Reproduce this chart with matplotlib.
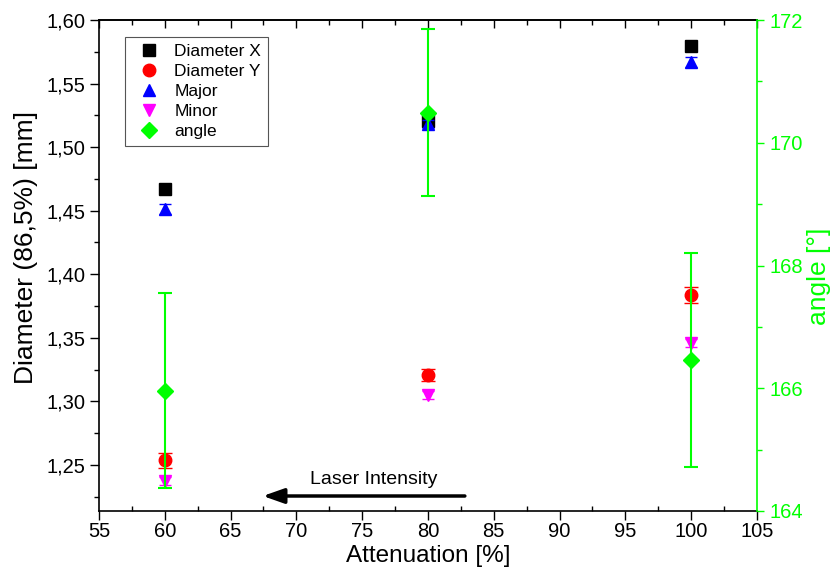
import matplotlib
matplotlib.use("Agg")
import matplotlib.pyplot as plt
from matplotlib.ticker import MultipleLocator, FuncFormatter

plt.rcParams['font.family'] = ['Liberation Sans', 'DejaVu Sans']

# Measured beam parameters versus attenuation setting
attenuation = [60, 80, 100]

diameter_x = [1.467, 1.5205, 1.5795]
diameter_x_err = [0.003, 0.003, 0.003]

diameter_y = [1.2535, 1.3207, 1.3836]
diameter_y_err = [0.006, 0.005, 0.006]

major = [1.4513, 1.518, 1.567]
major_err = [0.004, 0.003, 0.004]

minor = [1.2373, 1.305, 1.3459]
minor_err = [0.003, 0.003, 0.003]

angle = [165.96, 170.49, 166.46]
angle_err = [1.59, 1.36, 1.75]

GREEN = '#00ff00'

fig = plt.figure(figsize=(8.34, 5.72), dpi=100)
ax = fig.add_axes([99 / 834, 1 - 511 / 572, 658 / 834, 491 / 572])
ax2 = ax.twinx()

ms = 8
e1 = ax.errorbar(attenuation, diameter_x, yerr=diameter_x_err, fmt='s', color='black',
                 ms=ms, capsize=4, elinewidth=1, label='Diameter X', zorder=3)
e2 = ax.errorbar(attenuation, diameter_y, yerr=diameter_y_err, fmt='o', color='#ff0000',
                 ms=ms + 1, capsize=5, elinewidth=1, label='Diameter Y', zorder=3)
e3 = ax.errorbar(attenuation, major, yerr=major_err, fmt='^', color='#0000ff',
                 ms=ms + 1, capsize=4, elinewidth=1, label='Major', zorder=4)
e4 = ax.errorbar(attenuation, minor, yerr=minor_err, fmt='v', color='#ff00ff',
                 ms=ms + 1, capsize=4, elinewidth=1, label='Minor', zorder=4)
e5 = ax2.errorbar(attenuation, angle, yerr=angle_err, fmt='D', color=GREEN,
                  ms=ms, capsize=5, elinewidth=1.5, capthick=1.5, label='angle', zorder=3)

# Axis ranges and ticks
ax.set_xlim(55, 105)
ax.set_ylim(1.2137, 1.60)
ax2.set_ylim(164, 172)

ax.xaxis.set_major_locator(MultipleLocator(5))
ax.xaxis.set_minor_locator(MultipleLocator(2.5))
ax.yaxis.set_major_locator(MultipleLocator(0.05))
ax.yaxis.set_minor_locator(MultipleLocator(0.025))
ax2.yaxis.set_major_locator(MultipleLocator(2))
ax2.yaxis.set_minor_locator(MultipleLocator(1))

ax.yaxis.set_major_formatter(FuncFormatter(lambda v, p: f"{v:.2f}".replace('.', ',')))
ax.xaxis.set_major_formatter(FuncFormatter(lambda v, p: f"{v:.0f}"))

TICK_FS = 14.5
ax.tick_params(axis='x', which='major', direction='out', length=6.5, width=1,
               labelsize=TICK_FS, pad=1.5, top=False)
ax.tick_params(axis='x', which='minor', direction='in', length=3.5, width=1, top=False)
ax.tick_params(axis='y', which='major', direction='out', length=6.5, width=1,
               labelsize=TICK_FS, pad=3, right=False)
ax.tick_params(axis='y', which='minor', direction='out', length=3.5, width=1, right=False)

top = ax.secondary_xaxis('top')
top.xaxis.set_major_locator(MultipleLocator(5))
top.xaxis.set_minor_locator(MultipleLocator(2.5))
top.tick_params(axis='x', which='major', direction='in', length=6, width=1, labeltop=False)
top.tick_params(axis='x', which='minor', direction='in', length=3.5, width=1)
top.spines['top'].set_linewidth(1.2)

ax2.tick_params(axis='y', which='major', direction='out', length=5, width=1,
                labelsize=TICK_FS, pad=4, colors=GREEN)
ax2.tick_params(axis='y', which='minor', direction='out', length=3.5, width=1, colors=GREEN)

for s in ['left', 'bottom', 'top']:
    ax.spines[s].set_linewidth(1.2)
ax.spines['right'].set_visible(False)
ax2.spines['right'].set_color(GREEN)
ax2.spines['right'].set_linewidth(1.2)
for s in ['left', 'bottom', 'top']:
    ax2.spines[s].set_visible(False)

ax.set_xlabel('Attenuation [%]', fontsize=17.5, labelpad=3)
ax.set_ylabel('Diameter (86,5%) [mm]', fontsize=19)
ax.yaxis.set_label_coords(-0.092, 0.537)
ax2.set_ylabel('angle [°]', fontsize=19, color=GREEN)
ax2.yaxis.set_label_coords(1.076, 0.477)

# Direction of increasing laser intensity
ax.annotate('', xy=(67.45, 1.2255), xytext=(82.8, 1.2255),
            arrowprops=dict(arrowstyle='-|>,head_length=0.85,head_width=0.3',
                            mutation_scale=15, color='black', lw=2.5,
                            shrinkA=0, shrinkB=0))
ax.text(75.9, 1.2381, 'Laser Intensity', fontsize=14, ha='center', va='center')

handles = [e[0] for e in (e1, e2, e3, e4, e5)]
labels = ['Diameter X', 'Diameter Y', 'Major', 'Minor', 'angle']
leg = ax2.legend(handles, labels, loc='upper left', bbox_to_anchor=(0.0395, 0.965),
                 borderaxespad=0, fontsize=12.5, fancybox=False, framealpha=1,
                 edgecolor='#555555', handlelength=2.0, handletextpad=0.45,
                 labelspacing=0.28, borderpad=0.4, numpoints=1)
leg.get_frame().set_linewidth(0.8)

fig.savefig('out.png', dpi=100)
